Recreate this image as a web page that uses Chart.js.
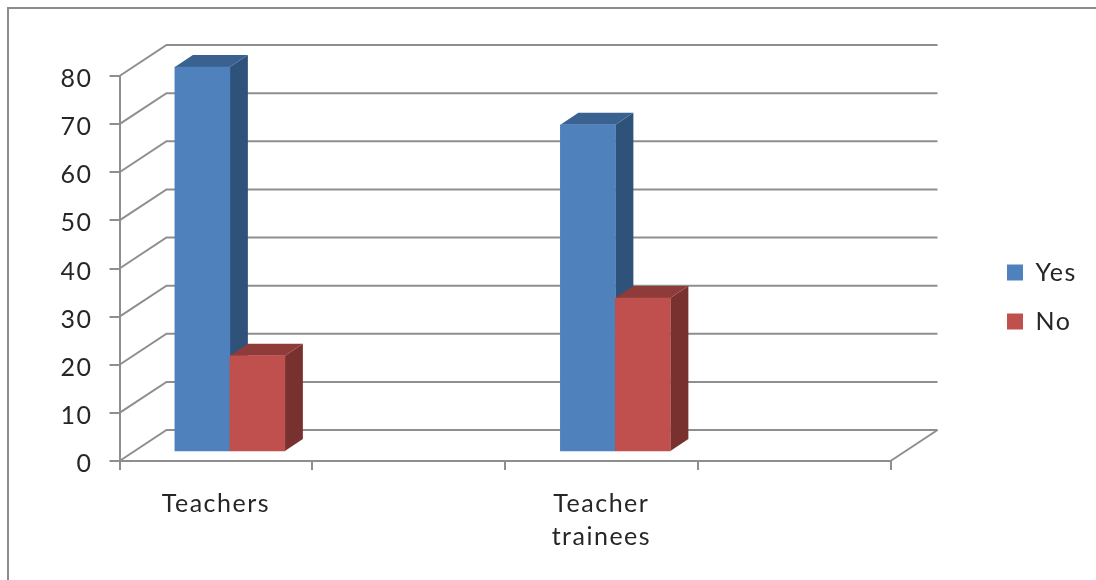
<!DOCTYPE html>
<html>
<head>
<meta charset="utf-8">
<title>Teachers and teacher trainees</title>
<script src="https://cdn.jsdelivr.net/npm/chart.js@4/dist/chart.umd.js"></script>
<style>
    html, body { margin: 0; padding: 0; background: #fff; overflow: hidden; }
    canvas { position: absolute; left: 0; top: 0; }
    .frame { position: absolute; left: 7px; top: 7px; right: 0; bottom: 0; border-left: 2px solid #8c8c8c; border-top: 2px solid #8c8c8c; }
</style>
</head>
<body>
<div class="frame"></div>
<canvas id="chart" width="1096" height="580"></canvas>
<script>
// the two empty categories are in the original axis too
const categories = ['Teachers', '', ['Teacher', 'trainees'], ''];
const yesValues = [80, null, 68, null];
const noValues = [20, null, 32, null];
const yTicks = [0, 10, 20, 30, 40, 50, 60, 70, 80];

const lineColor = '#8e8e8e';
const textColor = '#262626';
const fontFamily = 'Lato, "Noto Sans", sans-serif';

// fake 3D: how far the back wall and the bars are pushed
const wall = { dx: 47, dy: -31 };
const barShift = { dx: 14, dy: -9 };
const barDepth = { dx: 18, dy: -12 };

function polygon(ctx, points, color) {
    ctx.fillStyle = color;
    ctx.beginPath();
    points.forEach((p, i) => i ? ctx.lineTo(p[0], p[1]) : ctx.moveTo(p[0], p[1]));
    ctx.closePath();
    ctx.fill();
}

const threeD = {
    id: 'threeD',
    beforeDraw(chart) {
        // the original text is stretched wide, Lato alone comes out too narrow
        chart.ctx.letterSpacing = '1.5px';

        // put the legend where it sits in the original, it clips to its own box
        const legend = chart.legend;
        legend.left = 1007 - legend.options.labels.padding;
        legend.right = 1096;
        legend.top = 236;
        legend.bottom = 580;
    },
    beforeDatasetsDraw(chart) {
        const ctx = chart.ctx;
        const { left, right, bottom } = chart.chartArea;
        const y = chart.scales.y;

        ctx.save();
        ctx.strokeStyle = lineColor;
        ctx.lineWidth = 2;
        yTicks.forEach(v => {
            const py = y.getPixelForValue(v);
            ctx.beginPath();
            ctx.moveTo(left, py);
            ctx.lineTo(left + wall.dx, py + wall.dy);
            ctx.lineTo(right + wall.dx, py + wall.dy);
            ctx.stroke();
        });
        ctx.beginPath();
        ctx.moveTo(right, bottom);
        ctx.lineTo(right + wall.dx, bottom + wall.dy);
        ctx.stroke();
        ctx.restore();
    },
    beforeDatasetDraw() {
        return false; // bars are painted below, Yes first so No overlaps its side
    },
    afterDatasetsDraw(chart) {
        const ctx = chart.ctx;
        chart.data.datasets.forEach((ds, i) => {
            const meta = chart.getDatasetMeta(i);
            ctx.save();
            ctx.translate(barShift.dx, barShift.dy);
            meta.data.forEach((bar, j) => {
                if (ds.data[j] === null) return;
                const { x, y, base, width } = bar.getProps(['x', 'y', 'base', 'width'], true);
                const l = x - width / 2;
                const r = x + width / 2;
                const d = barDepth;
                polygon(ctx, [[r, y], [r + d.dx, y + d.dy], [r + d.dx, base + d.dy], [r, base]], ds.sideColor);
                polygon(ctx, [[l, y], [l + d.dx, y + d.dy], [r + d.dx, y + d.dy], [r, y]], ds.topColor);
                bar.draw(ctx);
            });
            ctx.restore();
        });
    }
};

document.addEventListener('DOMContentLoaded', () => {
    new Chart(document.getElementById('chart'), {
        type: 'bar',
        plugins: [threeD],
        data: {
            labels: categories,
            datasets: [
                { label: 'Yes', data: yesValues, backgroundColor: '#4f81bd', sideColor: '#2f527b', topColor: '#3a6291' },
                { label: 'No', data: noValues, backgroundColor: '#c0504d', sideColor: '#793130', topColor: '#8e3b39' }
            ]
        },
        options: {
            responsive: false,
            animation: false,
            barThickness: 55,
            categoryPercentage: 1,
            layout: {
                autoPadding: false,
                padding: { left: 0, top: 76, right: 205.5, bottom: 0 }
            },
            plugins: {
                tooltip: { enabled: false },
                legend: {
                    position: 'chartArea',
                    align: 'start',
                    labels: {
                        boxWidth: 16,
                        boxHeight: 16,
                        padding: 24,
                        color: textColor,
                        font: { family: fontFamily, size: 25 }
                    }
                }
            },
            scales: {
                x: {
                    afterFit: scale => { scale.height = 119; },
                    border: { color: lineColor, width: 2 },
                    grid: { drawOnChartArea: false, color: lineColor, lineWidth: 2, tickLength: 9 },
                    ticks: {
                        autoSkip: false,
                        maxRotation: 0,
                        padding: 17,
                        color: textColor,
                        font: { family: fontFamily, size: 25, lineHeight: 1.32 }
                    }
                },
                y: {
                    min: 0,
                    max: 80,
                    afterFit: scale => { scale.width = 119.5; },
                    border: { color: lineColor, width: 2 },
                    grid: { drawOnChartArea: false, color: lineColor, lineWidth: 2, tickLength: 10 },
                    ticks: {
                        stepSize: 10,
                        padding: 17,
                        labelOffset: 3,
                        color: textColor,
                        font: { family: fontFamily, size: 25 }
                    }
                }
            }
        }
    });
});
</script>
</body>
</html>
